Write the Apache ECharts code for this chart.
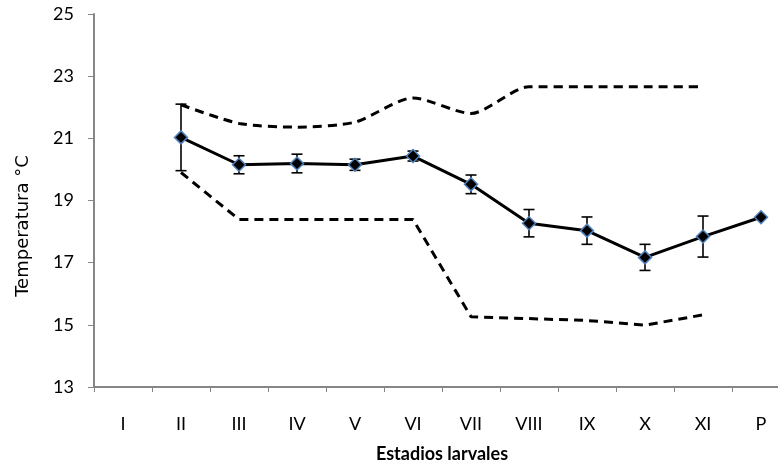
<!DOCTYPE html>
<html>
<head>
<meta charset="utf-8">
<script src="https://cdn.jsdelivr.net/npm/echarts@6/dist/echarts.min.js"></script>
<style>html,body{margin:0;padding:0;background:#fff;overflow:hidden;}#wrap{width:778px;height:468px;overflow:hidden;position:relative;}#c{width:790px;height:468px;position:absolute;left:0;top:0;}</style>
</head>
<body>
<div id="wrap"><div id="c"></div></div>
<script>
const categories = ['I','II','III','IV','V','VI','VII','VIII','IX','X','XI','P'];
const meanTemp = [null, 21.03, 20.15, 20.19, 20.15, 20.43, 19.52, 18.27, 18.03, 17.17, 17.84, 18.46];
const errTemp  = [null, 1.07, 0.29, 0.30, 0.18, 0.16, 0.30, 0.44, 0.44, 0.42, 0.66, null];
const upperTemp = [null, 22.08, 21.48, 21.36, 21.52, 22.30, 21.80, 22.66, 22.66, 22.66, 22.66, null];
const lowerTemp = [null, 19.90, 18.39, 18.39, 18.39, 18.39, 15.26, 15.20, 15.14, 14.99, 15.32, null];
const yTicks = {min: 13, max: 25, interval: 2};
const xTitle = 'Estadios larvales';
const yTitle = 'Temperatura °C';

const errData = [];
meanTemp.forEach((m, i) => {
  if (m != null && errTemp[i] != null) errData.push([i, m - errTemp[i], m + errTemp[i]]);
});

const font = 'Lato, "Open Sans", sans-serif';
const chart = echarts.init(document.getElementById('c'));
chart.setOption({
  animation: false,
  grid: {left: 94, right: 0, top: 14, bottom: 78},
  graphic: [{
    type: 'text', x: 14, y: 226, rotation: Math.PI / 2,
    style: {text: yTitle, font: '18px "DejaVu Sans", sans-serif', fill: '#000',
            align: 'center', verticalAlign: 'top'}
  }],
  xAxis: {
    type: 'category',
    data: categories,
    boundaryGap: true,
    name: xTitle,
    nameLocation: 'middle',
    nameGap: 58,
    nameTextStyle: {fontFamily: font, fontSize: 18, fontWeight: 'bold', color: '#000'},
    axisLine: {lineStyle: {color: '#868686', width: 2}},
    axisTick: {show: true, length: 5, lineStyle: {color: '#868686'}},
    axisLabel: {fontFamily: font, fontSize: 18, color: '#000', margin: 28}
  },
  yAxis: {
    type: 'value',
    min: yTicks.min, max: yTicks.max, interval: yTicks.interval,
    splitLine: {show: false},
    axisLine: {show: true, lineStyle: {color: '#868686', width: 2}},
    axisTick: {show: true, length: 6, lineStyle: {color: '#868686'}},
    axisLabel: {fontFamily: font, fontSize: 18, color: '#000', margin: 20}
  },
  series: [
    {
      type: 'line', data: upperTemp, symbol: 'none', smooth: 0.25,
      lineStyle: {color: '#000', width: 3, type: [9, 6]}, z: 2
    },
    {
      type: 'line', data: lowerTemp, symbol: 'none',
      lineStyle: {color: '#000', width: 3, type: [9, 6]}, z: 2
    },
    {
      type: 'custom', data: errData, z: 3,
      renderItem: function (params, api) {
        const x = api.value(0);
        const lo = api.coord([x, api.value(1)]);
        const hi = api.coord([x, api.value(2)]);
        const hw = 5.5;
        const st = {stroke: '#000', lineWidth: 1.6};
        return {type: 'group', children: [
          {type: 'line', shape: {x1: lo[0], y1: lo[1], x2: hi[0], y2: hi[1]}, style: st},
          {type: 'line', shape: {x1: lo[0]-hw, y1: lo[1], x2: lo[0]+hw, y2: lo[1]}, style: st},
          {type: 'line', shape: {x1: hi[0]-hw, y1: hi[1], x2: hi[0]+hw, y2: hi[1]}, style: st}
        ]};
      }
    },
    {
      type: 'line', data: meanTemp, symbol: 'diamond', symbolSize: 13,
      itemStyle: {color: '#000', borderColor: '#4f81bd', borderWidth: 1.5},
      lineStyle: {color: '#000', width: 3}, z: 4
    }
  ]
});
</script>
</body>
</html>
